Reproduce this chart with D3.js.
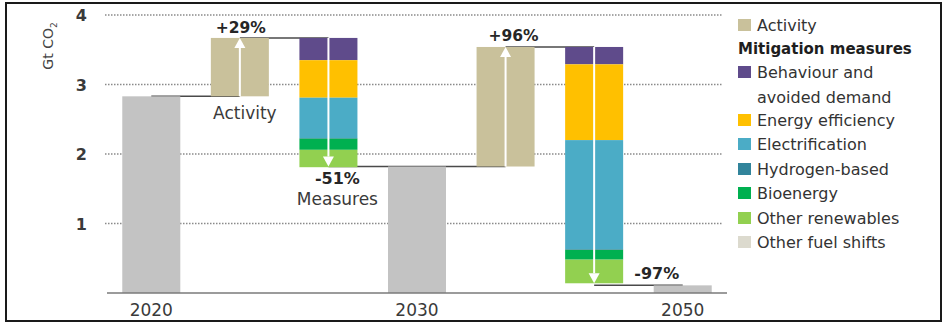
<!DOCTYPE html>
<html><head><meta charset="utf-8">
<script src="https://cdn.jsdelivr.net/npm/d3@7"></script>
<style>body{margin:0;background:#fff}svg{display:block}text{font-family:"DejaVu Sans",sans-serif;fill:#333}</style>
</head><body><svg id="c" width="945" height="323"></svg>
<script>
// ---- data ----
const steps = ["2020","Activity1","Measures1","2030","Activity2","Measures2","2050"];
const yearLabels = {"2020":"2020","2030":"2030","2050":"2050"};
const totals = {"2020":2.83,"2030":1.82,"2050":0.11};
const activityStart = [2.83, 1.82];
const activityEnd = [3.67, 3.54];
const activityPct = ["+29%","+96%"];
const measureKeys = ["Behaviour and avoided demand","Energy efficiency","Electrification","Hydrogen-based","Bioenergy","Other renewables","Other fuel shifts"];
const measures2030 = [0.32, 0.54, 0.58, 0.01, 0.16, 0.25, 0];
const measures2050 = [0.25, 1.09, 1.57, 0.01, 0.14, 0.34, 0];
const measurePct = ["-51%","-97%"];
const yTicks = [1,2,3,4];
const colors = {"Activity":"#c9c19b","Behaviour and avoided demand":"#5f4b8b","Energy efficiency":"#ffc000","Electrification":"#4bacc6","Hydrogen-based":"#31849b","Bioenergy":"#00b050","Other renewables":"#92d050","Other fuel shifts":"#dcdace"};
const legendItems = [["Activity"],["Mitigation measures","title"],["Behaviour and avoided demand"],["Energy efficiency"],["Electrification"],["Hydrogen-based"],["Bioenergy"],["Other renewables"],["Other fuel shifts"]];

const svg = d3.select("#c");
const x = d3.scaleBand().domain(steps).range([107,727]).paddingInner(0.345).paddingOuter(0.1725);
const y = d3.scaleLinear().domain([0,4]).range([293,15]);
const cx = s => x(s) + x.bandwidth()/2;

svg.append("rect").attr("x",6).attr("y",3).attr("width",935).attr("height",318)
  .attr("fill","none").attr("stroke","#1a1a1a").attr("stroke-width",2);

// gridlines
svg.append("g").selectAll("line").data(yTicks).join("line")
  .attr("x1",105).attr("x2",722).attr("y1",d=>y(d)).attr("y2",d=>y(d))
  .attr("stroke","#8a8a8a").attr("stroke-width",1.3).attr("stroke-dasharray","1.5,1.5");
svg.append("g").selectAll("text").data(yTicks).join("text")
  .attr("x",87).attr("y",d=>y(d)+6).attr("text-anchor","end")
  .attr("font-size",16).attr("font-weight","bold").style("fill","#3a3a3a").text(d=>d);
const yt = svg.append("text").attr("transform","translate(53,46) rotate(-90)")
  .attr("text-anchor","middle").attr("font-size",14).style("fill","#444");
yt.append("tspan").text("Gt CO");
yt.append("tspan").attr("font-size",9).attr("dy",4).text("2");

// connector lines
const conn = [
  [cx("2020"), cx("Activity1"), totals["2020"]],
  [cx("Activity1"), cx("Measures1"), activityEnd[0]],
  [cx("Measures1"), cx("Activity2"), totals["2030"]],
  [cx("Activity2"), cx("Measures2"), activityEnd[1]],
  [cx("Measures2"), cx("2050"), totals["2050"]]
];
svg.append("g").selectAll("line").data(conn).join("line")
  .attr("x1",d=>d[0]).attr("x2",d=>d[1]).attr("y1",d=>y(d[2])).attr("y2",d=>y(d[2]))
  .attr("stroke","#4a4a4a").attr("stroke-width",1.5);

// total bars
svg.append("g").selectAll("rect").data(Object.keys(totals)).join("rect")
  .attr("x",d=>x(d)).attr("width",x.bandwidth())
  .attr("y",d=>y(totals[d])).attr("height",d=>y(0)-y(totals[d])).attr("fill","#c3c3c3");

// activity bars
["Activity1","Activity2"].forEach((s,i)=>{
  svg.append("rect").attr("x",x(s)).attr("width",x.bandwidth())
    .attr("y",y(activityEnd[i])).attr("height",y(activityStart[i])-y(activityEnd[i]))
    .attr("fill",colors["Activity"]);
});

// measure bars
[["Measures1",measures2030,activityEnd[0]],["Measures2",measures2050,activityEnd[1]]].forEach(([s,vals,top])=>{
  let cur = top;
  vals.forEach((v,k)=>{
    if(v<=0) return;
    svg.append("rect").attr("x",x(s)).attr("width",x.bandwidth())
      .attr("y",y(cur)).attr("height",y(cur-v)-y(cur)).attr("fill",colors[measureKeys[k]]);
    cur -= v;
  });
});

// arrows
function arrow(xp, from, to){
  const up = to>from;
  const y0=y(from), y1=y(to);
  const tip = y1, base = up? y1+10 : y1-10;
  svg.append("line").attr("x1",xp).attr("x2",xp).attr("y1",y0).attr("y2",base)
    .attr("stroke","#fff").attr("stroke-width",2);
  svg.append("path").attr("d",`M${xp-5.5},${base}L${xp+5.5},${base}L${xp},${tip}Z`).attr("fill","#fff");
}
arrow(cx("Activity1"), activityStart[0], activityEnd[0]);
arrow(cx("Activity2"), activityStart[1], activityEnd[1]);
arrow(cx("Measures1"), activityEnd[0], totals["2030"]);
arrow(cx("Measures2"), activityEnd[1], totals["2050"]+0.03);

// labels
const lab = (t,xp,yp,size,bold)=>svg.append("text").attr("x",xp).attr("y",yp).attr("text-anchor","middle")
  .attr("font-size",size).attr("font-weight",bold?"bold":"normal").style("fill",bold?"#262626":"#3a3a3a").text(t);
lab(activityPct[0], cx("Activity1")+1, y(activityEnd[0])-5, 15.5, true);
lab("Activity", cx("Activity1")+5, y(activityStart[0])+23, 17, false);
lab(measurePct[0], cx("Measures1")+9, y(totals["2030"])+17, 16, true);
lab("Measures", cx("Measures1")+9, y(totals["2030"])+38, 17, false);
lab(activityPct[1], cx("Activity2")+8, y(activityEnd[1])-6, 15.5, true);
lab(measurePct[1], cx("2050")-26, y(totals["2050"])-6, 16, true);

// x axis
svg.append("line").attr("x1",107).attr("x2",727).attr("y1",y(0)).attr("y2",y(0))
  .attr("stroke","#7a7a7a").attr("stroke-width",1.5);
svg.append("g").selectAll("text").data(steps.filter(s=>yearLabels[s])).join("text")
  .attr("x",d=>cx(d)).attr("y",316).attr("text-anchor","middle").attr("font-size",17)
  .style("fill","#3a3a3a").text(d=>yearLabels[d]);

// legend
const ly = [25,48,72,120,144,169,193,218,242];
const lg = svg.append("g");
legendItems.forEach((it,i)=>{
  const name = it[0];
  if(it[1]==="title"){
    lg.append("text").attr("x",738).attr("y",ly[i]+6).attr("font-size",15).attr("font-weight","bold")
      .style("fill","#1e1e1e").text(name);
    return;
  }
  lg.append("rect").attr("x",738).attr("y",ly[i]-6).attr("width",13).attr("height",12).attr("fill",colors[name]);
  if(name==="Behaviour and avoided demand"){
    lg.append("text").attr("x",757).attr("y",ly[i]+6).attr("font-size",16).style("fill","#333").text("Behaviour and");
    lg.append("text").attr("x",757).attr("y",ly[i]+6+25).attr("font-size",16).style("fill","#333").text("avoided demand");
  } else {
    lg.append("text").attr("x",757).attr("y",ly[i]+6).attr("font-size",16).style("fill","#333").text(name);
  }
});
</script></body></html>
